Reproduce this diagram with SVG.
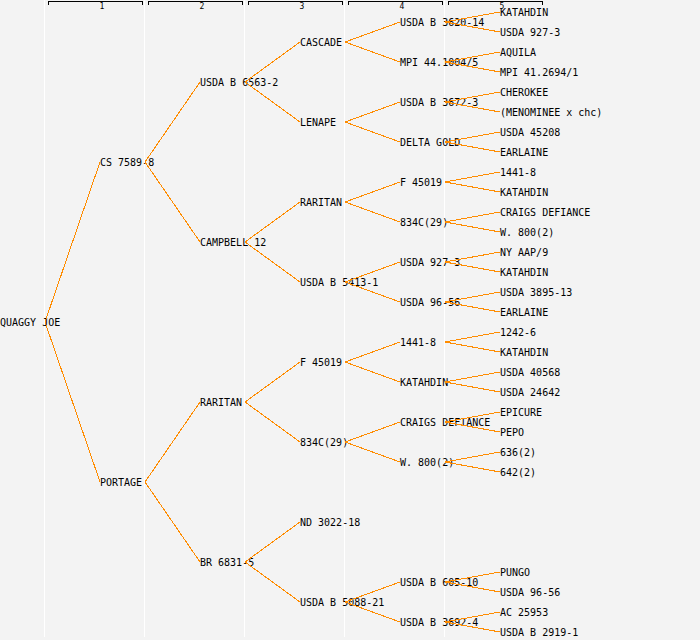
<svg xmlns="http://www.w3.org/2000/svg" width="700" height="640" viewBox="0 0 700 640">
<style>
.bg{fill:#f3f3f3}
.sep{stroke:#ffffff;stroke-width:1}
.hdr{fill:none;stroke:#000;stroke-width:1;shape-rendering:crispEdges}
.hn{font-family:"DejaVu Sans Mono",monospace;font-size:8px;fill:#000;text-anchor:middle}
text.n{font-family:"DejaVu Sans Mono","Liberation Mono",monospace;font-size:10px;fill:#000}
.c line{stroke:#ff8c00;stroke-width:1;shape-rendering:crispEdges}
</style>
<rect class="bg" x="0" y="0" width="700" height="640"/>
<g id="grid">
<line class="sep" x1="44.5" y1="0" x2="44.5" y2="637"/>
<line class="sep" x1="144.5" y1="0" x2="144.5" y2="637"/>
<line class="sep" x1="244.5" y1="0" x2="244.5" y2="637"/>
<line class="sep" x1="344.5" y1="0" x2="344.5" y2="637"/>
<line class="sep" x1="444.5" y1="0" x2="444.5" y2="637"/>
</g>
<g id="header">
<path class="hdr" d="M48.5,5V1.5H142.5V5"/>
<path class="hdr" d="M148.5,5V1.5H242.5V5"/>
<path class="hdr" d="M248.5,5V1.5H342.5V5"/>
<path class="hdr" d="M348.5,5V1.5H442.5V5"/>
<path class="hdr" d="M448.5,5V1.5H542.5V5"/>
<text class="hn" x="102" y="9">1</text>
<text class="hn" x="202" y="9">2</text>
<text class="hn" x="302" y="9">3</text>
<text class="hn" x="402" y="9">4</text>
<text class="hn" x="502" y="9">5</text>
</g>
<g id="n0"><text class="n" x="0" y="326">QUAGGY JOE</text></g>
<g id="n1a"><text class="n" x="100" y="166">CS 7589-8</text></g>
<g id="n1b"><text class="n" x="100" y="486">PORTAGE</text></g>
<g id="n2a"><text class="n" x="200" y="86">USDA B 6563-2</text></g>
<g id="n2b"><text class="n" x="200" y="246">CAMPBELL 12</text></g>
<g id="n2c"><text class="n" x="200" y="406">RARITAN</text></g>
<g id="n2d"><text class="n" x="200" y="566">BR 6831-5</text></g>
<g id="n3a"><text class="n" x="300" y="46">CASCADE</text></g>
<g id="n3b"><text class="n" x="300" y="126">LENAPE</text></g>
<g id="n3c"><text class="n" x="300" y="206">RARITAN</text></g>
<g id="n3d"><text class="n" x="300" y="286">USDA B 5413-1</text></g>
<g id="n3e"><text class="n" x="300" y="366">F 45019</text></g>
<g id="n3f"><text class="n" x="300" y="446">834C(29)</text></g>
<g id="n3g"><text class="n" x="300" y="526">ND 3022-18</text></g>
<g id="n3h"><text class="n" x="300" y="606">USDA B 5088-21</text></g>
<g id="n4a"><text class="n" x="400" y="26">USDA B 3620-14</text></g>
<g id="n4b"><text class="n" x="400" y="66">MPI 44.1004/5</text></g>
<g id="n4c"><text class="n" x="400" y="106">USDA B 3672-3</text></g>
<g id="n4d"><text class="n" x="400" y="146">DELTA GOLD</text></g>
<g id="n4e"><text class="n" x="400" y="186">F 45019</text></g>
<g id="n4f"><text class="n" x="400" y="226">834C(29)</text></g>
<g id="n4g"><text class="n" x="400" y="266">USDA 927-3</text></g>
<g id="n4h"><text class="n" x="400" y="306">USDA 96-56</text></g>
<g id="n4i"><text class="n" x="400" y="346">1441-8</text></g>
<g id="n4j"><text class="n" x="400" y="386">KATAHDIN</text></g>
<g id="n4k"><text class="n" x="400" y="426">CRAIGS DEFIANCE</text></g>
<g id="n4l"><text class="n" x="400" y="466">W. 800(2)</text></g>
<g id="n4o"><text class="n" x="400" y="586">USDA B 605-10</text></g>
<g id="n4p"><text class="n" x="400" y="626">USDA B 3692-4</text></g>
<g id="n5_01"><text class="n" x="500" y="16">KATAHDIN</text></g>
<g id="n5_02"><text class="n" x="500" y="36">USDA 927-3</text></g>
<g id="n5_03"><text class="n" x="500" y="56">AQUILA</text></g>
<g id="n5_04"><text class="n" x="500" y="76">MPI 41.2694/1</text></g>
<g id="n5_05"><text class="n" x="500" y="96">CHEROKEE</text></g>
<g id="n5_06"><text class="n" x="500" y="116">(MENOMINEE x chc)</text></g>
<g id="n5_07"><text class="n" x="500" y="136">USDA 45208</text></g>
<g id="n5_08"><text class="n" x="500" y="156">EARLAINE</text></g>
<g id="n5_09"><text class="n" x="500" y="176">1441-8</text></g>
<g id="n5_10"><text class="n" x="500" y="196">KATAHDIN</text></g>
<g id="n5_11"><text class="n" x="500" y="216">CRAIGS DEFIANCE</text></g>
<g id="n5_12"><text class="n" x="500" y="236">W. 800(2)</text></g>
<g id="n5_13"><text class="n" x="500" y="256">NY AAP/9</text></g>
<g id="n5_14"><text class="n" x="500" y="276">KATAHDIN</text></g>
<g id="n5_15"><text class="n" x="500" y="296">USDA 3895-13</text></g>
<g id="n5_16"><text class="n" x="500" y="316">EARLAINE</text></g>
<g id="n5_17"><text class="n" x="500" y="336">1242-6</text></g>
<g id="n5_18"><text class="n" x="500" y="356">KATAHDIN</text></g>
<g id="n5_19"><text class="n" x="500" y="376">USDA 40568</text></g>
<g id="n5_20"><text class="n" x="500" y="396">USDA 24642</text></g>
<g id="n5_21"><text class="n" x="500" y="416">EPICURE</text></g>
<g id="n5_22"><text class="n" x="500" y="436">PEPO</text></g>
<g id="n5_23"><text class="n" x="500" y="456">636(2)</text></g>
<g id="n5_24"><text class="n" x="500" y="476">642(2)</text></g>
<g id="n5_29"><text class="n" x="500" y="576">PUNGO</text></g>
<g id="n5_30"><text class="n" x="500" y="596">USDA 96-56</text></g>
<g id="n5_31"><text class="n" x="500" y="616">AC 25953</text></g>
<g id="n5_32"><text class="n" x="500" y="636">USDA B 2919-1</text></g>
<g id="connectors" class="c">
<line x1="45" y1="322" x2="100" y2="162"/>
<line x1="45" y1="322" x2="100" y2="482"/>
<line x1="145" y1="162" x2="200" y2="82"/>
<line x1="145" y1="162" x2="200" y2="242"/>
<line x1="145" y1="482" x2="200" y2="402"/>
<line x1="145" y1="482" x2="200" y2="562"/>
<line x1="245" y1="82" x2="300" y2="42"/>
<line x1="245" y1="82" x2="300" y2="122"/>
<line x1="245" y1="242" x2="300" y2="202"/>
<line x1="245" y1="242" x2="300" y2="282"/>
<line x1="245" y1="402" x2="300" y2="362"/>
<line x1="245" y1="402" x2="300" y2="442"/>
<line x1="245" y1="562" x2="300" y2="522"/>
<line x1="245" y1="562" x2="300" y2="602"/>
<line x1="345" y1="42" x2="400" y2="22"/>
<line x1="345" y1="42" x2="400" y2="62"/>
<line x1="345" y1="122" x2="400" y2="102"/>
<line x1="345" y1="122" x2="400" y2="142"/>
<line x1="345" y1="202" x2="400" y2="182"/>
<line x1="345" y1="202" x2="400" y2="222"/>
<line x1="345" y1="282" x2="400" y2="262"/>
<line x1="345" y1="282" x2="400" y2="302"/>
<line x1="345" y1="362" x2="400" y2="342"/>
<line x1="345" y1="362" x2="400" y2="382"/>
<line x1="345" y1="442" x2="400" y2="422"/>
<line x1="345" y1="442" x2="400" y2="462"/>
<line x1="345" y1="602" x2="400" y2="582"/>
<line x1="345" y1="602" x2="400" y2="622"/>
<line x1="445" y1="22" x2="500" y2="12"/>
<line x1="445" y1="22" x2="500" y2="32"/>
<line x1="445" y1="62" x2="500" y2="52"/>
<line x1="445" y1="62" x2="500" y2="72"/>
<line x1="445" y1="102" x2="500" y2="92"/>
<line x1="445" y1="102" x2="500" y2="112"/>
<line x1="445" y1="142" x2="500" y2="132"/>
<line x1="445" y1="142" x2="500" y2="152"/>
<line x1="445" y1="182" x2="500" y2="172"/>
<line x1="445" y1="182" x2="500" y2="192"/>
<line x1="445" y1="222" x2="500" y2="212"/>
<line x1="445" y1="222" x2="500" y2="232"/>
<line x1="445" y1="262" x2="500" y2="252"/>
<line x1="445" y1="262" x2="500" y2="272"/>
<line x1="445" y1="302" x2="500" y2="292"/>
<line x1="445" y1="302" x2="500" y2="312"/>
<line x1="445" y1="342" x2="500" y2="332"/>
<line x1="445" y1="342" x2="500" y2="352"/>
<line x1="445" y1="382" x2="500" y2="372"/>
<line x1="445" y1="382" x2="500" y2="392"/>
<line x1="445" y1="422" x2="500" y2="412"/>
<line x1="445" y1="422" x2="500" y2="432"/>
<line x1="445" y1="462" x2="500" y2="452"/>
<line x1="445" y1="462" x2="500" y2="472"/>
<line x1="445" y1="582" x2="500" y2="572"/>
<line x1="445" y1="582" x2="500" y2="592"/>
<line x1="445" y1="622" x2="500" y2="612"/>
<line x1="445" y1="622" x2="500" y2="632"/>
</g>
</svg>
